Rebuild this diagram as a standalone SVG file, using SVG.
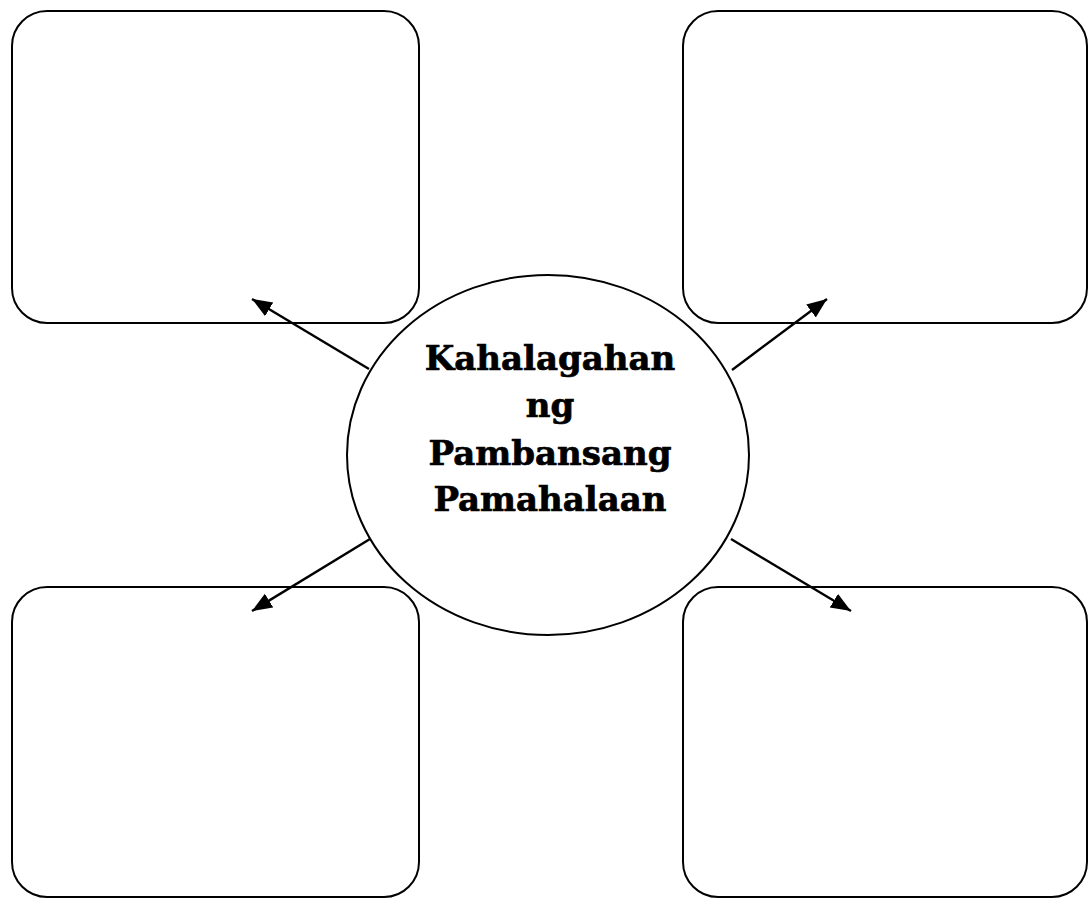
<svg xmlns="http://www.w3.org/2000/svg" width="1088" height="898" viewBox="0 0 1088 898">
<style>
.box{fill:#fff;stroke:#000;stroke-width:2}
.ell{fill:#fff;stroke:#000;stroke-width:2}
.conn{stroke:#000;stroke-width:2.4;fill:none;marker-end:url(#ah)}
.lbl{font-family:"DejaVu Serif","Liberation Serif",serif;font-weight:bold;font-size:34px;fill:#000;stroke:#000;stroke-width:0.7;text-anchor:middle}
</style>
<defs>
<marker id="ah" markerUnits="userSpaceOnUse" markerWidth="22" markerHeight="18" refX="20" refY="8" orient="auto">
<path d="M0,0 L20,8 L0,16 Z" fill="#000"/>
</marker>
</defs>
<rect width="1088" height="898" fill="#fff"/>
<g id="box-tl"><rect class="box" x="12" y="11" width="407" height="312" rx="35" ry="35"/></g>
<g id="box-tr"><rect class="box" x="683" y="11" width="404" height="312" rx="35" ry="35"/></g>
<g id="box-bl"><rect class="box" x="12" y="587" width="407" height="310" rx="35" ry="35"/></g>
<g id="box-br"><rect class="box" x="683" y="587" width="404" height="310" rx="35" ry="35"/></g>
<g id="connectors">
<line class="conn" x1="369" y1="369" x2="252" y2="299"/>
<line class="conn" x1="732" y1="370" x2="827" y2="299"/>
<line class="conn" x1="370" y1="539" x2="252" y2="611"/>
<line class="conn" x1="731" y1="539" x2="851" y2="611"/>
</g>
<g id="center">
<ellipse class="ell" cx="548" cy="455" rx="201" ry="180"/>
<text class="lbl" x="550" y="370">Kahalagahan</text>
<text class="lbl" x="550" y="417">ng</text>
<text class="lbl" x="550" y="465">Pambansang</text>
<text class="lbl" x="550" y="511">Pamahalaan</text>
</g>
</svg>
